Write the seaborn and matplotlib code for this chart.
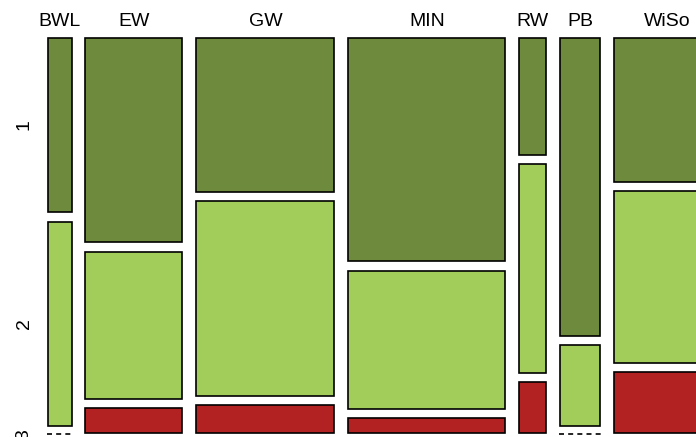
#___________________________________________________________________________________________________________________________________________
# Required Modules
import numpy as np
import matplotlib
matplotlib.use("Agg")
import matplotlib.pyplot as plt
import seaborn as sns
#___________________________________________________________________________________________________________________________________________
# Data : counts per faculty (columns) and grade (rows)
faculties = ["BWL", "EW", "GW", "MIN", "RW", "PB", "WiSo"]
grades = ["1", "2", "3"]
grade1 = [12, 54, 58, 95, 9, 33, 42]
grade2 = [14, 39, 73, 59, 16, 9, 50]
grade3 = [0, 7, 11, 7, 4, 0, 18]
grade_colors = ["#6E8B3D", "#A2CD5A", "#B22222"]
#___________________________________________________________________________________________________________________________________________
# Layout of the mosaic (in figure pixels)
X0, Y_TOP = 46.7, 37.0      # outer top-left corner of the first tile
PX = 0.985                  # pixels per student (column widths)
GAP_X, GAP_Y = 12.3, 7.8    # gaps between tiles
H = 381.5                   # height shared by the tiles of one column
INSET = 0.8                 # half the border width

sns.set_theme(style="white")
plt.rcParams['font.family'] = ['Liberation Sans', 'DejaVu Sans']

fig = plt.figure(figsize=(6.96, 4.37), dpi=100)
ax = fig.add_axes([0, 0, 1, 1])
ax.set_xlim(0, 696)
ax.set_ylim(437, 0)
ax.axis("off")

counts = np.array([grade1, grade2, grade3])
totals = counts.sum(axis=0)
lefts = X0 + np.concatenate([[0], np.cumsum(totals[:-1])]) * PX + np.arange(len(faculties)) * GAP_X
widths = totals * PX

for j, fac in enumerate(faculties):
    left, width = lefts[j], widths[j]
    top = Y_TOP
    for k in range(len(grades)):
        h = counts[k, j] / totals[j] * H
        if counts[k, j] > 0:
            ax.bar(left + INSET, h - 2 * INSET, width=width - 2 * INSET, bottom=top + INSET,
                   align='edge', color=grade_colors[k], edgecolor='black', linewidth=1.2)
        else:
            ax.hlines(top, left, left + width, colors='black', linestyles=(0, (3, 2.5)), linewidth=1.2)
        # grade labels at the rows of the first column
        if j == 0:
            ax.text(24, top + h / 2, grades[k], rotation=90, ha='center', va='center',
                    fontsize=14, color='black')
        top += h + GAP_Y
    ax.text(left + width / 2, 21, fac, ha='center', va='center', fontsize=14, color='black')

fig.savefig("out.png", dpi=100)
